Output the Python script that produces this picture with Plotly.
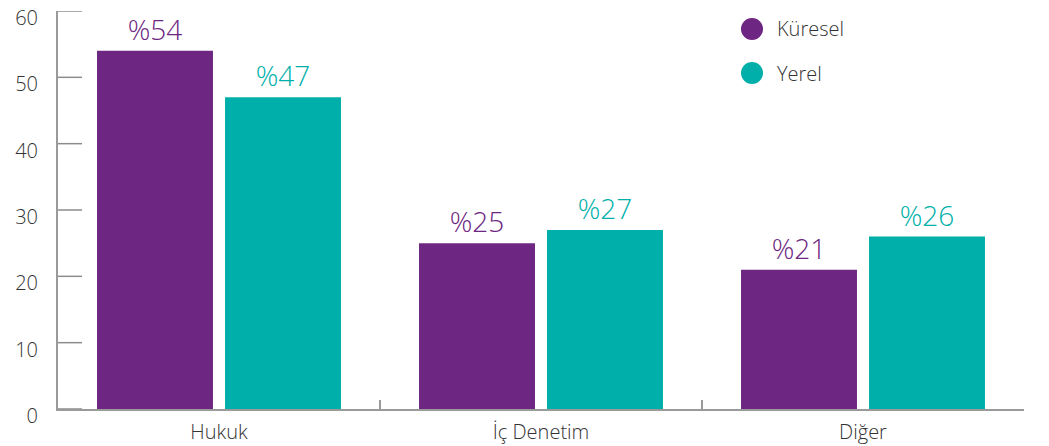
import plotly.graph_objects as go

categories = ["Hukuk", "İç Denetim", "Diğer"]
kuresel = [54, 25, 21]
yerel = [47, 27, 26]
series_names = ["Küresel", "Yerel"]
y_ticks = [0, 10, 20, 30, 40, 50, 60]

PURPLE = "#6D2681"
TEAL = "#00AFA9"
GRAY = "#9a9a9a"
TXT = "#333333"
FONT = "Open Sans"

W, H = 1049, 446
ML, MR, MT, MB = 58, 25, 11, 37
PLOT_W = W - ML - MR
TICK_LEN = 24

fig = go.Figure()
for name, vals, col in [(series_names[0], kuresel, PURPLE), (series_names[1], yerel, TEAL)]:
    fig.add_trace(go.Bar(
        name=name, x=categories, y=vals, marker_color=col, marker_line_width=0,
        text=[f"%{v}" for v in vals], textposition="outside", cliponaxis=False,
        textfont=dict(family=FONT, size=28, color=col, weight=300),
        showlegend=False, hoverinfo="skip",
    ))

# y-axis inside tick marks, drawn on an invisible pixel-scaled overlay x-axis
tx, ty = [], []
for v in y_ticks:
    tx += [0, TICK_LEN, None]
    ty += [v, v, None]
fig.add_trace(go.Scatter(
    x=tx, y=ty, xaxis="x2", yaxis="y", mode="lines",
    line=dict(color="#8c8c8c", width=1.5), showlegend=False,
    hoverinfo="skip", cliponaxis=False,
))

fig.update_layout(
    width=W, height=H,
    margin=dict(l=ML, r=MR, t=MT, b=MB, autoexpand=False),
    paper_bgcolor="white", plot_bgcolor="white",
    barmode="group", bargap=0.205, bargroupgap=0.094,
    font=dict(family=FONT, size=20, color=TXT, weight=300),
    xaxis2=dict(overlaying="x", range=[0, PLOT_W], visible=False,
                showgrid=False, zeroline=False, fixedrange=True),
)
fig.update_xaxes(
    selector=dict(anchor="y"),
)
fig.layout.xaxis.update(
    showgrid=False, showline=True, linecolor=GRAY, linewidth=2,
    ticks="inside", tickson="boundaries", ticklen=9, tickcolor=GRAY, tickwidth=2,
    tickfont=dict(family=FONT, size=20, color=TXT, weight=300),
    ticklabelstandoff=4, automargin=False,
)
fig.update_yaxes(
    range=[0, 60.0001], tickvals=y_ticks, showgrid=False, zeroline=False,
    showline=True, linecolor=GRAY, linewidth=2, ticks="",
    tickfont=dict(family=FONT, size=20, color=TXT, weight=300),
    ticklabelstandoff=14, ticklabelshift=7, ticklabeloverflow="allow",
    automargin=False,
)

# manual legend
leg_y = [29, 73]
for i, (name, col) in enumerate([(series_names[0], PURPLE), (series_names[1], TEAL)]):
    yp = 1 - (leg_y[i] - MT) / (H - MT - MB)
    fig.add_shape(type="circle", xref="paper", yref="paper",
                  xsizemode="pixel", ysizemode="pixel",
                  xanchor=(752 - ML) / PLOT_W, yanchor=yp,
                  x0=-11, x1=11, y0=-11, y1=11,
                  fillcolor=col, line_width=0)
    fig.add_annotation(xref="paper", yref="paper",
                       x=(775 - ML) / PLOT_W, y=yp, text=name,
                       showarrow=False, xanchor="left", yanchor="middle",
                       font=dict(family=FONT, size=20, color=TXT, weight=300))

fig.write_html("out.html", config={"displayModeBar": False})
with open("out.html", encoding="utf-8") as f:
    html = f.read()
html = html.replace("<head>", "<head><style>html,body{margin:0;padding:0;overflow:hidden;}</style>", 1)
with open("out.html", "w", encoding="utf-8") as f:
    f.write(html)
